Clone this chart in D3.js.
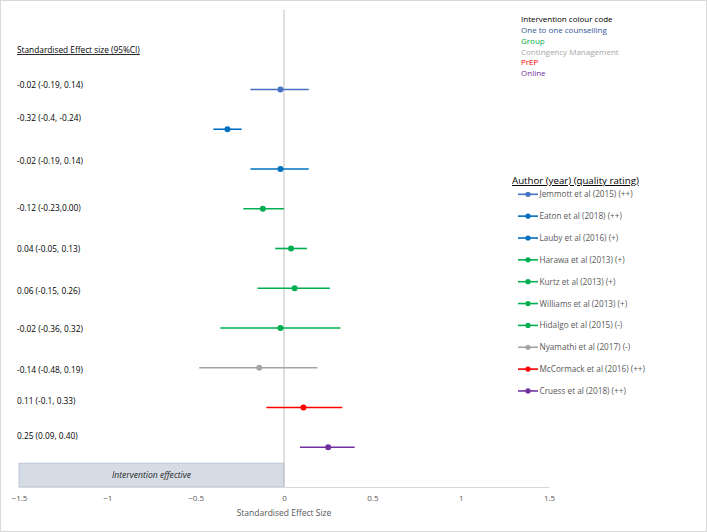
<!DOCTYPE html>
<html><head><meta charset="utf-8">
<script src="https://cdn.jsdelivr.net/npm/d3@7"></script>
<style>
body{margin:0;background:#fff;}
svg{display:block;font-family:"Open Sans","Noto Sans",sans-serif;}
</style></head>
<body><svg id="c" width="707" height="532"></svg>
<script>
// ---- data ----
const authors = ["Jemmott et al (2015) (++)","Eaton et al (2018) (++)","Lauby et al (2016) (+)","Harawa et al (2013) (+)","Kurtz et al (2013) (+)","Williams et al (2013) (+)","Hidalgo et al (2015) (-)","Nyamathi et al (2017) (-)","McCormack et al (2016) (++)","Cruess et al (2018) (++)"];
const effect = [-0.02,-0.32,-0.02,-0.12,0.04,0.06,-0.02,-0.14,0.11,0.25];
const lower  = [-0.19,-0.40,-0.19,-0.23,-0.05,-0.15,-0.36,-0.48,-0.10,0.09];
const upper  = [0.14,-0.24,0.14,0.00,0.13,0.26,0.32,0.19,0.33,0.40];
const esLabels = ["-0.02 (-0.19, 0.14)","-0.32 (-0.4, -0.24)","-0.02 (-0.19, 0.14)","-0.12 (-0.23,0.00)","0.04 (-0.05, 0.13)","0.06 (-0.15, 0.26)","-0.02 (-0.36, 0.32)","-0.14 (-0.48, 0.19)","0.11 (-0.1, 0.33)","0.25 (0.09, 0.40)"];
const interventionType = ["One to one counselling","One to one counselling","One to one counselling","Group","Group","Group","Group","Contingency Management","PrEP","Online"];
const interventionTypes = ["One to one counselling","Group","Contingency Management","PrEP","Online"];
const xTicks = [-1.5,-1,-0.5,0,0.5,1,1.5];

// ---- styles ----
const markColors = ["#4472c4","#0070c0","#0070c0","#00b050","#00b050","#00b050","#00b050","#a5a5a5","#ff0000","#7030a0"];
const typeColors = {"One to one counselling":"#2f5597","Group":"#00b050","Contingency Management":"#a6a6a6","PrEP":"#ff0000","Online":"#7030a0"};
const labelNudge = [5,11,8,1,0,-3,-1,-2,7,11]; // px shift of left text boxes

const svg = d3.select("#c");
svg.append("rect").attr("x",0.5).attr("y",0.5).attr("width",706).attr("height",531)
  .attr("fill","#fff").attr("stroke","#d9d9d9");

const x = d3.scaleLinear().domain([-1.5,1.5]).range([19,549]);
const y = d3.scaleLinear().domain([0,12]).range([487,10]);
const n = authors.length;
const rowY = i => y(n - i);

// effective region box
svg.append("rect").attr("x",x(-1.5)).attr("y",y(0.6)).attr("width",x(0)-x(-1.5)).attr("height",y(0)-y(0.6))
  .attr("fill","#d6dce5").attr("stroke","#b4bfcf").attr("stroke-width",0.8);
svg.append("text").attr("x",(x(-1.5)+x(0))/2).attr("y",(y(0.6)+y(0))/2+3)
  .attr("text-anchor","middle").attr("font-style","italic").attr("font-size",8.6).attr("fill","#262626")
  .text("Intervention effective");

// axis
const ax = svg.append("g").attr("transform",`translate(0,${y(0)})`)
  .call(d3.axisBottom(x).tickValues(xTicks).tickSize(0).tickPadding(8).tickFormat(d3.format("")));
ax.select(".domain").attr("stroke","#d9d9d9");
ax.selectAll("text").attr("font-size",8).attr("fill","#595959").attr("font-family","Open Sans, sans-serif");
svg.append("text").attr("x",x(0)).attr("y",516).attr("text-anchor","middle")
  .attr("font-size",8.5).attr("fill","#595959").text("Standardised Effect Size");

// zero line
svg.append("line").attr("x1",x(0)).attr("x2",x(0)).attr("y1",y(12)).attr("y2",y(0))
  .attr("stroke","#bfbfbf").attr("stroke-width",1);

// CIs and points
const rows = authors.map((a,i)=>({a,i,e:effect[i],l:lower[i],u:upper[i],c:markColors[i]}));
svg.selectAll("line.ci").data(rows).join("line").attr("class","ci")
  .attr("x1",d=>x(d.l)).attr("x2",d=>x(d.u)).attr("y1",d=>rowY(d.i)).attr("y2",d=>rowY(d.i))
  .attr("stroke",d=>d.c).attr("stroke-width",1.6);
svg.selectAll("circle.pt").data(rows).join("circle").attr("class","pt")
  .attr("cx",d=>x(d.e)).attr("cy",d=>rowY(d.i)).attr("r",3).attr("fill",d=>d.c);

// left labels
svg.append("text").attr("x",17).attr("y",53).attr("font-size",8.3).attr("fill","#000")
  .attr("text-decoration","underline").text("Standardised Effect size (95%CI)");
svg.selectAll("text.es").data(rows).join("text").attr("class","es")
  .attr("x",17).attr("y",d=>rowY(d.i)-labelNudge[d.i]+3).attr("font-size",8.3).attr("fill","#000")
  .text(d=>esLabels[d.i]);

// colour code legend
svg.append("text").attr("x",521).attr("y",22).attr("font-size",8).attr("fill","#000").text("Intervention colour code");
svg.selectAll("text.ty").data(interventionTypes).join("text").attr("class","ty")
  .attr("x",521).attr("y",(d,i)=>33+i*10.8).attr("font-size",8).attr("fill",d=>typeColors[d]).text(d=>d);

// author legend
svg.append("text").attr("x",512).attr("y",184).attr("font-size",9.7).attr("fill","#000")
  .attr("text-decoration","underline").text("Author (year) (quality rating)");
const lg = svg.selectAll("g.lg").data(rows).join("g").attr("class","lg")
  .attr("transform",d=>`translate(0,${194.3+d.i*21.85})`);
lg.append("line").attr("x1",518).attr("x2",538).attr("stroke",d=>d.c).attr("stroke-width",1.6);
lg.append("circle").attr("cx",528).attr("r",2.6).attr("fill",d=>d.c);
lg.append("text").attr("x",539.5).attr("y",3).attr("font-size",8.2).attr("fill","#595959").text(d=>d.a);
</script></body></html>
